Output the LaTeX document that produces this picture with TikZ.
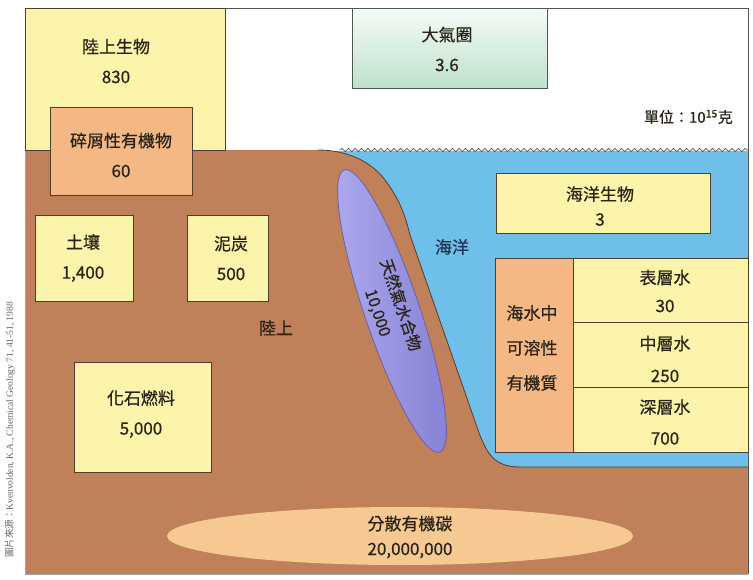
\documentclass[tikz,border=0pt]{standalone}
\usepackage{fontspec}
\setmainfont{Noto Sans CJK TC}
\newfontfamily\lblfont[FakeBold=0.6]{Noto Sans CJK TC}
\newfontfamily\srcserif{Liberation Serif}
\usetikzlibrary{shapes.geometric,decorations.pathmorphing}

\definecolor{land}{HTML}{C0805A}
\definecolor{landedge}{HTML}{5A3A28}
\definecolor{sea}{HTML}{6EC0EA}
\definecolor{yfill}{HTML}{FBF4AA}
\definecolor{ofill}{HTML}{F4B884}
\definecolor{edge}{HTML}{4E4030}
\definecolor{txt}{HTML}{2A2418}
\definecolor{gastop}{HTML}{F6FBF8}
\definecolor{gasbot}{HTML}{BDE1CB}
\definecolor{hydlight}{HTML}{ADAAEE}
\definecolor{hyddark}{HTML}{8480D4}
\definecolor{hydedge}{HTML}{6C5FA8}
\definecolor{docfill}{HTML}{F6C993}
\definecolor{framegray}{HTML}{555555}
\definecolor{seatxt}{HTML}{1E3550}

\tikzset{
  boxy/.style={draw=edge, fill=yfill, line width=0.9pt, inner sep=0pt},
  boxo/.style={draw=edge, fill=ofill, line width=0.9pt, inner sep=0pt},
  lbl/.style={text=txt, align=center, inner sep=0pt,
    font=\lblfont\fontsize{17}{30}\selectfont},
  wave/.style={draw=framegray, line width=0.7pt, decorate,
    decoration={snake, segment length=6.5pt, amplitude=1.6pt}},
}

\begin{document}
\begin{tikzpicture}[x=1pt,y=-1pt]
\useasboundingbox (0,0) rectangle (753,579);
\fill[white] (0,0) rectangle (753,579);

% ocean water
\fill[sea] (330,151) rectangle (748,470);
\draw[wave] (340,150) -- (748,150);

% land with the continental slope
\fill[land] (25,150) -- (315,150)
  .. controls (345,150) and (370,160) .. (385,180)
  .. controls (400,200) and (405,215) .. (410,235)
  -- (478,430)
  .. controls (487,455) and (495,467) .. (520,467)
  -- (748,467) -- (748,574) -- (25,574) -- cycle;
\draw[landedge, line width=0.8pt] (318,150)
  .. controls (345,150) and (370,160) .. (385,180)
  .. controls (400,200) and (405,215) .. (410,235)
  -- (478,430)
  .. controls (487,455) and (495,467) .. (520,467)
  -- (748,467);

% outer frame
\draw[framegray, line width=0.9pt] (25,8) -- (748,8) -- (748,574);
\draw[gray!70, line width=0.8pt] (25,574) -- (748,574);
\draw[gray!70, line width=0.6pt] (25,8) -- (25,574);

% atmosphere
\node[draw=framegray, line width=0.9pt, top color=gastop, bottom color=gasbot,
  minimum width=195pt, minimum height=80pt, inner sep=0pt] (atm) at (449.5,48) {};
\node[lbl] (atmtxt) at (447,49) {大氣圈\\3.6};

\node[text=txt, anchor=east, inner sep=0pt, font=\lblfont\fontsize{15}{18}\selectfont]
  (unit) at (733,117) {單位：10\textsuperscript{15}克};

% land pools
\node[boxy, minimum width=200pt, minimum height=142pt] (bio) at (125,79) {};
\node[lbl] (biotxt) at (116,61) {陸上生物\\830};
\node[boxo, minimum width=142pt, minimum height=88pt] (det) at (121,151) {};
\node[lbl] (dettxt) at (121,155) {碎屑性有機物\\60};

\node[boxy, minimum width=98pt, minimum height=86pt] (soil) at (84,258) {};
\node[lbl] (soiltxt) at (83,258) {土壤\\1,400};
\node[boxy, minimum width=81pt, minimum height=86pt] (peat) at (227.5,258) {};
\node[lbl] (peattxt) at (231,258) {泥炭\\500};
\node[boxy, minimum width=137pt, minimum height=110pt] (fos) at (142.5,417) {};
\node[lbl] (fostxt) at (141,414) {化石燃料\\5,000};

\node[lbl] (landtxt) at (276,328) {陸上};
\node[lbl, text=seatxt] (seatxt) at (452,247) {海洋};

% gas hydrate lens on the slope
\node[ellipse, draw=hydedge, line width=0.8pt, left color=hydlight, right color=hyddark,
  minimum width=298pt, minimum height=55pt, rotate=-71.3, inner sep=0pt] (hyd) at (392,311) {};
\node[lbl, rotate=-71.3, font=\lblfont\fontsize{16}{24}\selectfont] (hydtxt) at (389,309) {天然氣水合物\\10,000};

% marine pools
\node[boxy, minimum width=214pt, minimum height=60pt] (mar) at (603,203) {};
\node[lbl, font=\lblfont\fontsize{17}{25}\selectfont] (martxt) at (600,206) {海洋生物\\3};

\node[boxo, minimum width=78pt, minimum height=194pt] (dom) at (534,355) {};
\node[lbl, font=\lblfont\fontsize{17}{35}\selectfont] (domtxt) at (532,348) {海水中\\可溶性\\有機質};
\node[boxy, minimum width=175pt, minimum height=64pt] (surf) at (660.5,290) {};
\node[lbl, font=\lblfont\fontsize{17}{28}\selectfont] (surftxt) at (665,291) {表層水\\30};
\node[boxy, minimum width=175pt, minimum height=65pt] (mid) at (660.5,354.5) {};
\node[lbl, font=\lblfont\fontsize{17}{32}\selectfont] (midtxt) at (665,359) {中層水\\250};
\node[boxy, minimum width=175pt, minimum height=65pt] (deep) at (660.5,419.5) {};
\node[lbl, font=\lblfont\fontsize{17}{31}\selectfont] (deeptxt) at (665,422) {深層水\\700};

% dispersed organic carbon
\node[ellipse, fill=docfill, minimum width=466pt, minimum height=58pt, inner sep=0pt] (doc) at (400,536) {};
\node[lbl, font=\lblfont\fontsize{17}{25}\selectfont] (doctxt) at (410,537) {分散有機碳\\20,000,000};

% source note
\node[rotate=90, text=gray!80!black, inner sep=0pt, font=\fontsize{9.5}{11}\selectfont]
  (src) at (10,430) {圖片來源：{\srcserif Kvenvolden, K.A., Chemical Geology 71, 41-51, 1988}};
\end{tikzpicture}
\end{document}
